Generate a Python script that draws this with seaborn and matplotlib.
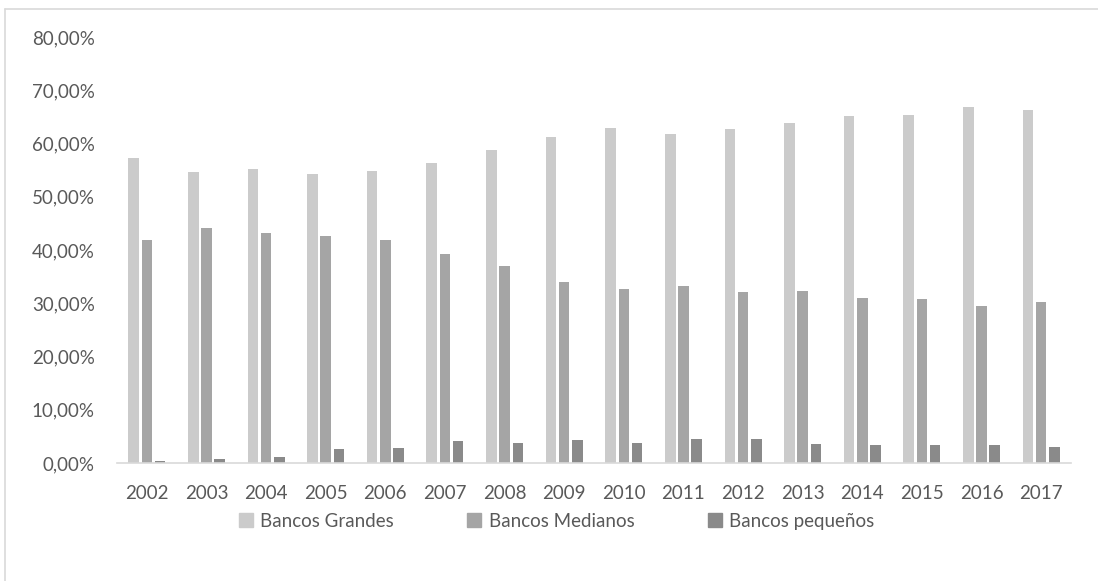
import pandas as pd
import numpy as np
import seaborn as sns
import matplotlib
matplotlib.use("Agg")
import matplotlib.pyplot as plt
from matplotlib.ticker import FuncFormatter
from matplotlib.lines import Line2D

# Data (share of total, %)
years = [str(y) for y in range(2002, 2018)]
grandes = [57.3, 54.6, 55.2, 54.2, 54.9, 56.3, 58.8, 61.3, 63.0, 61.7, 62.7, 63.8, 65.1, 65.4, 66.8, 66.3]
medianos = [41.9, 44.2, 43.2, 42.7, 41.8, 39.2, 37.0, 34.0, 32.7, 33.3, 32.1, 32.3, 31.0, 30.8, 29.4, 30.3]
pequenos = [0.4, 0.7, 1.2, 2.6, 2.8, 4.1, 3.7, 4.3, 3.8, 4.6, 4.6, 3.5, 3.4, 3.3, 3.3, 3.0]
series = ["Bancos Grandes", "Bancos Medianos", "Bancos pequeños"]
colors = ["#cbcbcb", "#a5a5a5", "#8a8a8a"]

df = pd.DataFrame({
    "Año": years * 3,
    "Serie": [series[0]] * 16 + [series[1]] * 16 + [series[2]] * 16,
    "Valor": [v / 100 for v in grandes + medianos + pequenos],
})

sns.set_style("white")
plt.rcParams["font.family"] = ["Lato", "DejaVu Sans"]
text_col = "#595959"

fig = plt.figure(figsize=(10.98, 5.81), dpi=100)
ax = fig.add_axes([0.1066, 0.2031, 0.8688, 0.7332])

sns.barplot(data=df, x="Año", y="Valor", hue="Serie", palette=colors,
            width=0.664, gap=0.2, ax=ax, legend=False, linewidth=0)

ax.set_ylim(0, 0.8)
ax.set_xlim(-0.5, 15.5)
ax.set_yticks(np.arange(0, 0.81, 0.1))
ax.yaxis.set_major_formatter(FuncFormatter(lambda v, p: f"{v*100:.2f}%".replace(".", ",")))
ax.set_xlabel("")
ax.set_ylabel("")
ax.tick_params(axis="both", length=0, labelsize=13.5, colors=text_col)
ax.tick_params(axis="x", pad=16)
ax.tick_params(axis="y", pad=16)
for s in ["top", "right", "left"]:
    ax.spines[s].set_visible(False)
ax.spines["bottom"].set_color("#d9d9d9")
ax.spines["bottom"].set_linewidth(1.2)
ax.grid(False)

handles = [plt.Rectangle((0, 0), 1, 1, color=c) for c in colors]
fig.legend(handles, series, loc="center", bbox_to_anchor=(0.507, 0.103), ncol=3,
           frameon=False, fontsize=13.5, handlelength=0.75, handleheight=0.75,
           handletextpad=0.4, columnspacing=3.9, labelcolor=text_col)

# chart frame (top and left edges only visible)
fig.add_artist(Line2D([0.005, 1.0], [0.985, 0.985], transform=fig.transFigure, color="#d9d9d9", lw=1.2))
fig.add_artist(Line2D([0.005, 0.005], [0.0, 0.985], transform=fig.transFigure, color="#d9d9d9", lw=1.2))

fig.savefig("out.png", dpi=100)
